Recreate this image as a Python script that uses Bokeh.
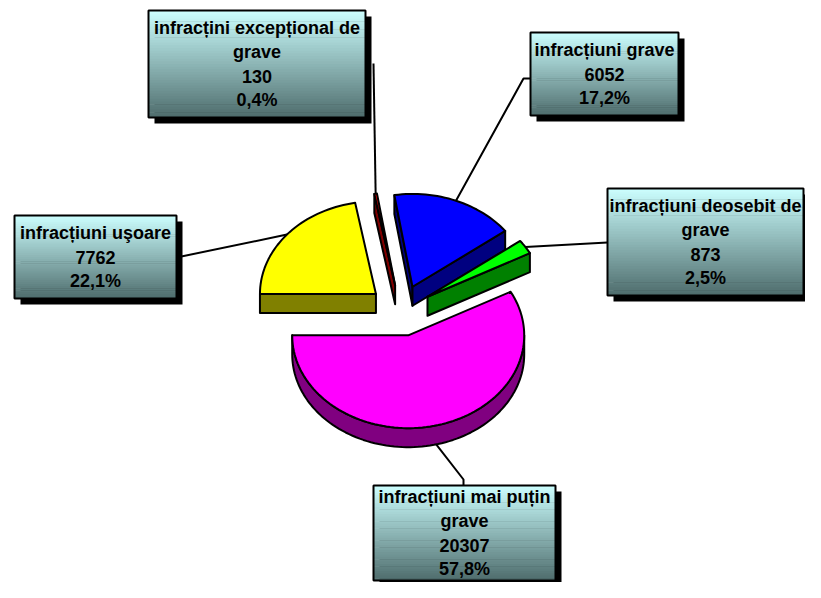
import math
from bokeh.plotting import figure
from bokeh.models import Range1d
from bokeh.core.properties import value
from bokeh.embed import file_html
from bokeh.resources import INLINE

# ---------------- data ----------------
categories = ["infracțiuni grave", "infracțiuni deosebit de grave",
              "infracțiuni mai puțin grave", "infracțiuni uşoare",
              "infracțini excepțional de grave"]
counts = [6052, 873, 20307, 7762, 130]

# ---------------- styles / layout ----------------
top_colors = ["#0000FF", "#00FF00", "#FF00FF", "#FFFF00", "#FF0000"]
side_colors = ["#000080", "#008000", "#800080", "#808000", "#800000"]
wrap_last_word = [False, True, True, False, True]

CX, CY = 400.0, 310.0      # pie centre (page pixels)
RAD = 116.0                # radius
ELL = 0.8                  # vertical flattening
DEPTH = 19.0               # thickness
EXPLODE = 32.0             # explosion distance
START = math.radians(-9)   # first slice start angle (clockwise from 12 o'clock)

box_rects = [(530, 32, 678, 115), (607, 188, 803, 295), (373, 485, 555, 580),
             (14, 215, 176, 298), (148, 10, 365, 117)]
leader_tails = [[(523, 78), (530, 78)], [(607, 242)], [(463, 479), (463, 485)],
                [(176, 257)], [(373, 63)]]
LINE_GAP = 24
SHADOW = 6

W, H = 805, 582
p = figure(width=W, height=H, output_backend="svg", toolbar_location=None,
           x_range=Range1d(0, W), y_range=Range1d(H, 0),
           x_axis_type=None, y_axis_type=None, min_border=0)
p.outline_line_color = None
p.grid.visible = False
p.background_fill_color = "white"
p.border_fill_color = "white"

total = float(sum(counts))
fracs = [c / total for c in counts]

angles = []
a = START
for f in fracs:
    angles.append((a, a + f * 2 * math.pi))
    a += f * 2 * math.pi


def pt(cx, cy, t, dy=0.0):
    return cx + RAD * math.sin(t), cy - RAD * ELL * math.cos(t) + dy


def arc(cx, cy, t0, t1, dy=0.0):
    n = max(2, int(abs(t1 - t0) / math.radians(2)) + 2)
    return [pt(cx, cy, t0 + (t1 - t0) * k / (n - 1), dy) for k in range(n)]


slices = []
for i, (a0, a1) in enumerate(angles):
    mid = (a0 + a1) / 2
    cx = CX + EXPLODE * math.sin(mid)
    cy = CY - EXPLODE * ELL * math.cos(mid)
    slices.append((i, a0, a1, mid, cx, cy))

# leader lines (drawn first)
lx, ly = [], []
for i, a0, a1, mid, cx, cy in slices:
    sx, sy = pt(cx, cy, mid, DEPTH if math.cos(mid) < 0 else 0.0)
    path = [(sx, sy)] + leader_tails[i]
    lx.append([q[0] for q in path])
    ly.append([q[1] for q in path])
p.multi_line(lx, ly, line_color="black", line_width=2)

# pie polygons, back to front
polys_x, polys_y, polys_c = [], [], []
for i, a0, a1, mid, cx, cy in sorted(slices, key=lambda s: -math.cos(s[3])):
    apex = (cx, cy)
    apex_d = (cx, cy + DEPTH)
    for t, vis in ((a0, math.sin(a0) < 0), (a1, math.sin(a1) > 0)):
        if vis:
            o = pt(cx, cy, t)
            od = pt(cx, cy, t, DEPTH)
            q = [apex, o, od, apex_d]
            polys_x.append([v[0] for v in q]); polys_y.append([v[1] for v in q])
            polys_c.append(side_colors[i])
    for k in (-1, 0, 1):
        lo = max(a0, math.pi / 2 + 2 * math.pi * k)
        hi = min(a1, 3 * math.pi / 2 + 2 * math.pi * k)
        if hi > lo:
            q = arc(cx, cy, lo, hi) + arc(cx, cy, hi, lo, DEPTH)
            polys_x.append([v[0] for v in q]); polys_y.append([v[1] for v in q])
            polys_c.append(side_colors[i])
    q = [apex] + arc(cx, cy, a0, a1)
    polys_x.append([v[0] for v in q]); polys_y.append([v[1] for v in q])
    polys_c.append(top_colors[i])

p.patches(polys_x, polys_y, fill_color=polys_c, line_color="black",
          line_width=2, line_join="round")


def mix(c0, c1, t):
    return "#%02x%02x%02x" % tuple(int(round(c0[j] + (c1[j] - c0[j]) * t)) for j in range(3))


G0, G1 = (204, 255, 255), (78, 108, 108)
NS = 40
sh_l, sh_r, sh_t, sh_b = [], [], [], []
g_l, g_r, g_t, g_b, g_c = [], [], [], [], []
b_l, b_r, b_t, b_b = [], [], [], []
tx, ty, tt = [], [], []
for i, (l, t, r, b) in enumerate(box_rects):
    sh_l.append(l + SHADOW); sh_r.append(r + SHADOW); sh_t.append(t + SHADOW); sh_b.append(b + SHADOW)
    for k in range(NS):
        y0 = t + (b - t) * k / NS
        y1 = t + (b - t) * (k + 1) / NS
        g_l.append(l); g_r.append(r); g_t.append(y0); g_b.append(y1 + 0.6)
        g_c.append(mix(G0, G1, (k + 0.5) / NS))
    b_l.append(l); b_r.append(r); b_t.append(t); b_b.append(b)
    name = categories[i]
    if wrap_last_word[i]:
        w = name.rsplit(" ", 1)
        lines = [w[0], w[1]]
    else:
        lines = [name]
    pct = ("%.1f" % (100 * counts[i] / total)).replace(".", ",") + "%"
    lines += [str(counts[i]), pct]
    cyb = (t + b) / 2
    n = len(lines)
    for j, s in enumerate(lines):
        tx.append((l + r) / 2)
        ty.append(cyb + (j - (n - 1) / 2) * LINE_GAP)
        tt.append(s)

p.quad(left=sh_l, right=sh_r, top=sh_t, bottom=sh_b, fill_color="black", line_color=None)
p.quad(left=g_l, right=g_r, top=g_t, bottom=g_b, fill_color=g_c, line_color=None)
p.quad(left=b_l, right=b_r, top=b_t, bottom=b_b, fill_color=None, line_color="black", line_width=2)
p.text(x=tx, y=ty, text=tt, text_font=value("Liberation Sans"), text_font_style="bold",
       text_font_size=value("18px"), text_align="center", text_baseline="middle",
       text_color="black")

open("out.html", "w").write(file_html(p, INLINE))
